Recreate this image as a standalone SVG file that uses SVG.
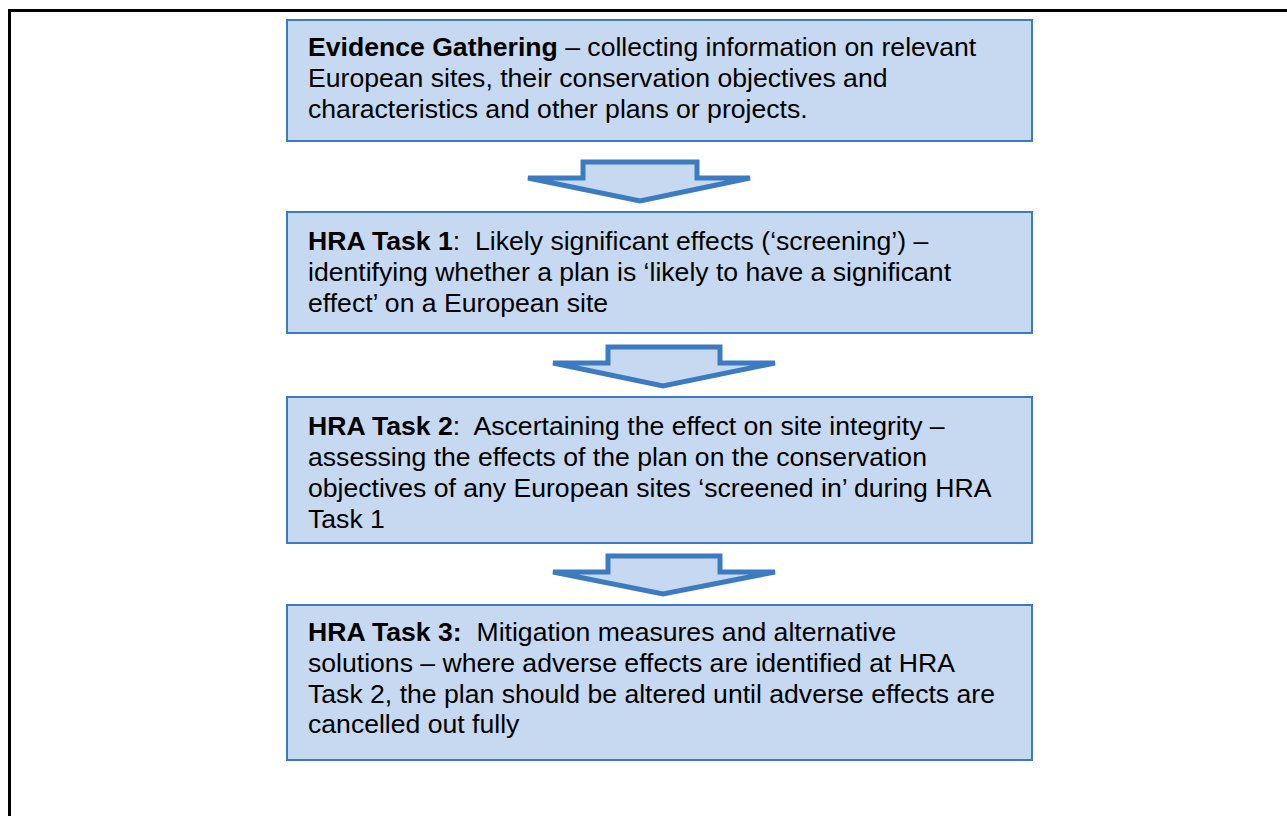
<svg xmlns="http://www.w3.org/2000/svg" width="1287" height="816" viewBox="0 0 1287 816">
<style>
.box{fill:#c6d9f1;stroke:#3c7bbf;stroke-width:2}
.arr{fill:#c6d9f1;stroke:#3c7bbf;stroke-width:5;stroke-linejoin:miter}
text{font-family:"Liberation Sans",Arial,sans-serif;font-size:26.6px;fill:#000;white-space:pre}
.b{font-weight:bold}
</style>
<rect width="1287" height="816" fill="#fff"/>
<path d="M9.5,816 V10.5 H1287" fill="none" stroke="#000" stroke-width="3"/>
<g id="connectors">
<path class="arr" d="M583,162 H697 V178 H750 L640,201 L528,178 H583 Z"/>
<path class="arr" d="M608,347 H720 V363 H775 L663,386 L553,363 H608 Z"/>
<path class="arr" d="M608,556 H720 V572 H775 L663,594 L553,572 H608 Z"/>
</g>
<g id="node1">
<rect class="box" x="287" y="20" width="745" height="121"/>
<text x="308" y="56"><tspan class="b">Evidence Gathering</tspan> – collecting information on relevant</text>
<text x="308" y="87">European sites, their conservation objectives and</text>
<text x="308" y="118">characteristics and other plans or projects.</text>
</g>
<g id="node2">
<rect class="box" x="287" y="212" width="745" height="121"/>
<text x="308" y="250"><tspan class="b">HRA Task 1</tspan>:  Likely significant effects (‘screening’) –</text>
<text x="308" y="281">identifying whether a plan is ‘likely to have a significant</text>
<text x="308" y="312">effect’ on a European site</text>
</g>
<g id="node3">
<rect class="box" x="287" y="397" width="745" height="146"/>
<text x="308" y="435"><tspan class="b">HRA Task 2</tspan>:  Ascertaining the effect on site integrity –</text>
<text x="308" y="466">assessing the effects of the plan on the conservation</text>
<text x="308" y="497">objectives of any European sites ‘screened in’ during HRA</text>
<text x="308" y="528">Task 1</text>
</g>
<g id="node4">
<rect class="box" x="287" y="605" width="745" height="155"/>
<text x="308" y="641"><tspan class="b">HRA Task 3:</tspan>  Mitigation measures and alternative</text>
<text x="308" y="672">solutions – where adverse effects are identified at HRA</text>
<text x="308" y="703">Task 2, the plan should be altered until adverse effects are</text>
<text x="308" y="733">cancelled out fully</text>
</g>
</svg>
